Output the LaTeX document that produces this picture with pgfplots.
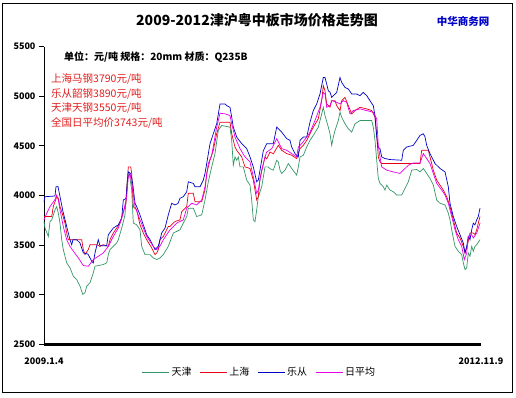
\documentclass[border=0pt]{standalone}
\usepackage{fontspec}
\setmainfont{Noto Sans CJK SC}
\usepackage{pgfplots}
\pgfplotsset{compat=1.18}
\definecolor{cTJ}{RGB}{51,150,100}
\definecolor{cSH}{RGB}{230,0,20}
\definecolor{cLC}{RGB}{0,0,200}
\definecolor{cAV}{RGB}{230,0,230}
\definecolor{cTxt}{RGB}{225,30,30}
\begin{document}
\begin{tikzpicture}
\path (0pt,0pt) rectangle (516pt,-397pt);
\draw[line width=1pt] (2.5pt,-3pt) rectangle (512.5pt,-392.5pt);
\begin{axis}[
  at={(44pt,-344.5pt)}, anchor=south west,
  scale only axis, width=437pt, height=298pt,
  xmin=44, xmax=481, ymin=2500, ymax=5500,
  axis x line*=bottom, axis y line*=left,
  axis line style={-},
  x axis line style={line width=3pt},
  y axis line style={line width=1pt},
  ytick={2500,3000,...,5500},
  xtick={44,481}, xticklabels={2009.1.4,2012.11.9},
  x tick style={draw=none},
  y tick style={line width=0.8pt, black},
  tick align=outside, major tick length=5pt,
  scaled y ticks=false,
  /pgf/number format/1000 sep={},
  /pgf/number format/assume math mode=true,
  yticklabel style={font=\bfseries\fontsize{9}{10}\selectfont},
  xticklabel style={font=\bfseries\fontsize{9}{10}\selectfont, yshift=-5pt},
  legend style={at={(0.493,-0.092)}, anchor=center, draw=none, fill=none,
    legend columns=4, font=\fontsize{10}{12}\selectfont,
    /tikz/every even column/.append style={column sep=6pt}},
  legend image code/.code={\draw[#1, line width=0.8pt] (0pt,0pt) -- (27pt,0pt);},
  clip=false,
]
\addplot[cTJ, line width=0.7pt] coordinates {
(44,3738) (45,3672) (48.3,3588) (50,3738) (51.7,3755) (55,3855) (56.7,3888) (58.3,3822) (60,3722) (61.7,3555) (63.3,3455) (66.7,3322) (70,3272) (73.3,3188) (76.7,3155) (80,3088) (82.7,3005) (85,3022) (86.7,3088) (90,3122) (93.3,3222) (95,3288) (103.3,3305) (106.7,3322) (108.3,3405) (110,3455) (113.3,3488) (116.7,3522) (118.3,3555) (121.7,3672) (125,3805) (127.3,4155) (129.3,4222) (131.7,4055) (133.3,3722) (136.7,3705) (140,3655) (141.7,3488) (145,3405) (150,3405) (153.3,3372) (156.7,3355) (160,3372) (163.3,3405) (168.3,3488) (173.3,3622) (180,3655) (183.3,3722) (186.7,3788) (188.3,3872) (193.3,3872) (196.7,3788) (201.7,3805) (205,3955) (208.3,4138) (211.7,4288) (215,4422) (218.3,4655) (221.7,4705) (230,4688) (231.7,4555) (233.3,4305) (235,4388) (236.7,4355) (238.3,4388) (240,4288) (243.3,4288) (246.7,4155) (250,4105) (251.7,3955) (253.3,3755) (255,3738) (256.7,3855) (258.3,3988) (261.7,4088) (265,4288) (268,4288) (270,4270) (273.3,4255) (276.7,4355) (278.3,4338) (280,4255) (281.7,4222) (285,4255) (288.3,4322) (291.7,4272) (296.7,4205) (298.3,4288) (300,4388) (303.3,4405) (306.7,4488) (310,4555) (313.3,4605) (318.3,4688) (321.7,4822) (323.3,4888) (325,4805) (328.3,4688) (330,4622) (331.7,4505) (333.3,4588) (335,4655) (338.3,4755) (340,4838) (341.7,4788) (345,4722) (348.3,4672) (351.7,4638) (355,4722) (360,4755) (371.7,4755) (373.3,4688) (375,4555) (376.7,4355) (378.3,4172) (380,4122) (383.3,4088) (385,4055) (386.7,4105) (390,4055) (393.3,4038) (396.7,4005) (401.7,4005) (405,4072) (408.3,4138) (411.7,4255) (416.7,4262) (420,4238) (423.3,4272) (426.7,4222) (430,4172) (433.3,4105) (436.7,3955) (440,3922) (445,3905) (448.3,3822) (450,3755) (451.7,3655) (455,3488) (458.3,3438) (461.7,3405) (463.3,3322) (465,3255) (466.7,3272) (468.3,3422) (470,3388) (471.7,3488) (473.3,3438) (475,3488) (476.7,3505) (480,3555)
};
\addlegendentry{天津}
\addplot[cSH, line width=0.7pt] coordinates {
(44,3788) (51.7,3788) (53.3,3888) (56.7,3988) (58.3,3972) (60,3888) (61.7,3838) (65,3722) (66.7,3622) (68.3,3555) (81.7,3555) (83.3,3455) (85,3405) (88.3,3455) (90,3505) (96.7,3505) (100,3488) (103.3,3505) (108.3,3488) (110,3555) (113.3,3622) (116.7,3672) (120,3722) (123.3,3838) (126,3922) (127,4100) (128.3,4288) (130.7,4288) (131.7,4222) (133.3,3888) (136.7,3855) (140,3705) (143.3,3622) (146.7,3555) (151.7,3472) (155,3405) (156.7,3422) (158.3,3455) (160,3555) (163.3,3588) (168.3,3688) (170,3688) (173.3,3722) (175,3738) (180,3755) (181.7,3838) (186.7,3888) (188.3,4022) (193.3,4022) (195,3938) (201.7,3938) (205,4055) (206.7,4222) (210,4355) (213.3,4455) (216.7,4622) (220,4738) (230,4738) (231.7,4622) (235,4488) (236.7,4455) (241.7,4388) (245,4288) (250,4272) (253.3,4155) (256.7,3955) (258.3,3988) (260,4172) (265,4388) (266.7,4370) (270,4438) (273.3,4420) (278.3,4505) (281.7,4455) (286.7,4422) (291.7,4405) (296.7,4372) (300,4472) (303.3,4505) (306.7,4555) (310,4622) (313.3,4688) (318.3,4772) (321.7,4955) (323.3,5105) (325,5055) (326.7,4922) (330,4890) (331.7,4955) (335,4955) (336.7,4905) (340,4855) (341.7,4955) (345,4988) (348.3,4905) (351.7,4822) (355,4855) (360,4888) (366.7,4872) (371.7,4855) (375,4788) (376.7,4600) (378.3,4388) (380,4338) (381.7,4322) (420,4322) (421.7,4455) (428.3,4455) (430,4388) (433.3,4255) (436.7,4155) (440,4105) (443.3,4055) (446.7,3988) (450,3888) (453.3,3755) (456.7,3622) (460,3572) (463.3,3488) (465,3422) (466.7,3470) (470,3622) (473.3,3622) (475,3605) (476.7,3655) (478.3,3722) (480,3788)
};
\addlegendentry{上海}
\addplot[cLC, line width=0.7pt] coordinates {
(44,3938) (45,3988) (55,3995) (56,4088) (58,4090) (60,3988) (63,3838) (66.7,3688) (70,3555) (71.7,3505) (73,3555) (76.7,3555) (80,3522) (83.3,3422) (88,3410) (91.7,3338) (93.3,3322) (95,3422) (98.3,3555) (100,3495) (106.7,3495) (108.3,3605) (113.3,3672) (118.3,3705) (121.7,3772) (123.3,3955) (126,3970) (128.3,4238) (130.7,4220) (132.7,4122) (135,3922) (136.7,3888) (140,3805) (143.3,3705) (146.7,3605) (150,3555) (155,3455) (158.3,3490) (161.7,3622) (165,3672) (168.3,3805) (171.7,3922) (175,3905) (178,3920) (180,3972) (183.3,3988) (186.7,4038) (188.3,4138) (193.3,4122) (195,4088) (200,4088) (203.3,4155) (205,4222) (206.7,4322) (210,4522) (213.3,4622) (216.7,4722) (220,4922) (225,4922) (226.7,4905) (230,4888) (231.7,4788) (233.3,4688) (236.7,4588) (241.7,4522) (246.7,4472) (250,4388) (253.3,4288) (256.7,4138) (258.3,4155) (260,4255) (263.3,4450) (266.7,4522) (273.3,4522) (276.7,4688) (278.3,4672) (281.7,4638) (286.7,4572) (290,4555) (291.7,4488) (295,4422) (298.3,4388) (300,4555) (303.3,4588) (306.7,4588) (310,4738) (313.3,4855) (316.7,4922) (320,5022) (323.3,5188) (325,5188) (326.7,5122) (328.3,5055) (330,5040) (331.7,4988) (333.3,5005) (336.7,5038) (340,5188) (341.7,5138) (345,5088) (348.3,5072) (351.7,5022) (356.7,5022) (360,5005) (363.3,5038) (366.7,5005) (370,4955) (373.3,4905) (375,4800) (376.7,4600) (378,4488) (380,4472) (381.7,4388) (385,4372) (390,4362) (401.7,4355) (403.3,4455) (406.7,4488) (413.3,4505) (416.7,4555) (420,4605) (423.3,4622) (425,4590) (426.7,4505) (430,4422) (435,4322) (440,4272) (445,4238) (448.3,4088) (450,3922) (453.3,3788) (456.7,3688) (460,3605) (463.3,3522) (465,3422) (466.7,3488) (468.3,3588) (470,3555) (471.7,3655) (473.3,3722) (475,3705) (476.7,3755) (478.3,3788) (480,3872)
};
\addlegendentry{乐从}
\addplot[cAV, line width=0.7pt] coordinates {
(44,3755) (46.7,3820) (50,3888) (55,3960) (56.7,4005) (58.3,3955) (60,3855) (63.3,3688) (66.7,3555) (70,3488) (73.3,3440) (78.3,3372) (83.3,3295) (88.3,3288) (93.3,3355) (98.3,3388) (103.3,3422) (108.3,3488) (113.3,3588) (118.3,3672) (123.3,3822) (126.7,3988) (128.3,4188) (130,4222) (132.7,4055) (135,3888) (140,3755) (146.7,3588) (153.3,3488) (156.7,3455) (160,3490) (163.3,3555) (170,3655) (176.7,3722) (183.3,3755) (186.7,3872) (191.7,3922) (196.7,3905) (201.7,3955) (205,4088) (208.3,4322) (211.7,4405) (216.7,4688) (220,4828) (225,4822) (230,4805) (231.7,4722) (235,4588) (240,4472) (245,4388) (250,4338) (253.3,4188) (256.7,4022) (258.3,4055) (261.7,4255) (265,4388) (266.7,4438) (271.7,4472) (276.7,4572) (281.7,4472) (286.7,4455) (291.7,4422) (296.7,4388) (298.3,4488) (301.7,4522) (306.7,4588) (310,4638) (315,4755) (320,4888) (323.3,5038) (325,5022) (326.7,4888) (330,4905) (331.7,4955) (336.7,4938) (340,4922) (343.3,4955) (346.7,4938) (350,4822) (353.3,4855) (360,4872) (366.7,4855) (373.3,4838) (376.7,4772) (378.3,4500) (380,4388) (381.7,4288) (386.7,4255) (393.3,4238) (400,4222) (403.3,4255) (408.3,4305) (413.3,4328) (420,4328) (423.3,4422) (426.7,4372) (430,4322) (433.3,4222) (436.7,4122) (441.7,4055) (445,4005) (448.3,3922) (451.7,3788) (455,3655) (458.3,3555) (461.7,3488) (464.3,3355) (466.7,3420) (468.3,3588) (471.7,3605) (473.3,3572) (476.7,3622) (480,3722)
};
\addlegendentry{日平均}
\end{axis}
\node[font=\bfseries\fontsize{14}{16}\selectfont] at (257pt,-20pt) {2009-2012津沪粤中板市场价格走势图};
\node[font=\bfseries\fontsize{10.5}{12}\selectfont, text=cLC] at (463pt,-21pt) {中华商务网};
\node[anchor=west, inner sep=0pt, font=\bfseries\fontsize{10}{12}\selectfont] at (64pt,-57pt) {单位：元/吨 规格：20mm 材质：Q235B};
\begin{scope}[every node/.style={anchor=west, inner sep=0pt, text=cTxt, font=\fontsize{10.5}{12}\selectfont}]
\node at (51pt,-79.5pt) {上海马钢3790元/吨};
\node at (51pt,-94pt) {乐从韶钢3890元/吨};
\node at (51pt,-108.5pt) {天津天钢3550元/吨};
\node at (51pt,-123pt) {全国日平均价3743元/吨};
\end{scope}
\end{tikzpicture}
\end{document}
